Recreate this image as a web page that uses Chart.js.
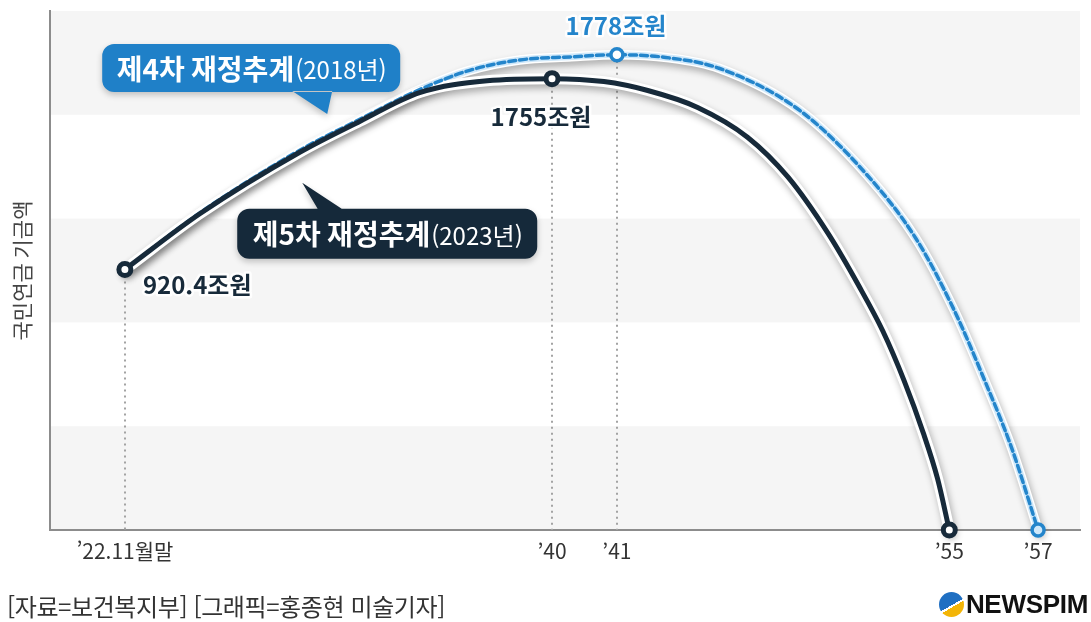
<!DOCTYPE html>
<html lang="ko">
<head>
<meta charset="utf-8">
<title>국민연금 기금액 전망</title>
<script src="https://cdn.jsdelivr.net/npm/chart.js@4/dist/chart.umd.min.js"></script>
<style>
  html, body { margin: 0; padding: 0; background: #fff; }
  #wrap { position: relative; width: 1091px; height: 622px; overflow: hidden; }
  #fund-chart { position: absolute; left: 0; top: 0; }
  .source {
    position: absolute; left: 7px; top: 588px;
    font: 24px "Noto Sans CJK KR", "Noto Sans", sans-serif; color: #333;
    letter-spacing: -0.4px; white-space: nowrap;
  }
  .logo {
    position: absolute; right: 3px; top: 589px; display: flex; align-items: center;
    font: bold 26px "Liberation Sans", "DejaVu Sans", sans-serif; color: #111; letter-spacing: -0.3px;
  }
  .logo .mark {
    width: 25px; height: 25px; border-radius: 50%; margin-right: 2px;
    background: linear-gradient(150deg, #1f6fc2 0 52%, #fff 52% 58%, #f3b507 58% 100%);
  }
</style>
</head>
<body>
<div id="wrap">
  <canvas id="fund-chart" width="1091" height="622"></canvas>
  <div class="source">[자료=보건복지부] [그래픽=홍종현 미술기자]</div>
  <div class="logo"><span class="mark"></span><span>NEWSPIM</span></div>
</div>
<script>
const FONT = '"Noto Sans CJK KR", "Noto Sans", sans-serif';
const DARK = '#172a3a';
const BLUE = '#2485cb';

// x ticks ('22.11 -> '57)
const xTickValues = [2022.9, 2040, 2041, 2055, 2057];
const xTickLabels = ['’22.11월말', '’40', '’41', '’55', '’57'];

// 제5차 재정추계 (2023) - 조원
const darkYears = [2022.9, 2025.9, 2029.9, 2032.3, 2034.7, 2037.4, 2040, 2040.8, 2042.3, 2044.4, 2046.5, 2048.2, 2049.9, 2051.2, 2052.2, 2053.1, 2053.9, 2054.5, 2055];
const darkFund  = [920.4, 1164, 1433, 1568, 1694, 1746, 1755, 1742, 1703, 1629, 1499, 1325, 1077, 861, 703, 527, 344, 183, 0];

// 제4차 재정추계 (2018) - 조원
const blueYears = [2022.9, 2025.9, 2029.9, 2032.3, 2034.7, 2036.7, 2038.7, 2040.3, 2041, 2043.2, 2045.3, 2048.7, 2051.5, 2053.6, 2055.1, 2055.8, 2056.4, 2057];
const blueFund  = [920.4, 1168, 1442, 1577, 1707, 1763, 1773, 1776, 1778, 1775, 1765, 1616, 1338, 1055, 780, 527, 292, 0];

// the graphic is schematic: axis is stretched piecewise between these [value, share of axis]
const xKnots = [[2019.9, 0], [2022.9, 0.0727], [2040, 0.4874], [2041, 0.5504], [2055, 0.8731], [2057, 0.9593], [2058, 1]];
const yKnots = [[0, 0], [920.4, 0.5019], [1755, 0.8697], [1778, 0.9157], [1820, 1]];
const knotsById = { x: xKnots, y: yKnots };

const toDecimal = (k, v) => {
    let i = 1;
    while (i < k.length - 1 && v > k[i][0]) i++;
    const [v0, d0] = k[i - 1], [v1, d1] = k[i];
    return d0 + (v - v0) / (v1 - v0) * (d1 - d0);
}
const fromDecimal = (k, d) => {
    let i = 1;
    while (i < k.length - 1 && d > k[i][1]) i++;
    const [v0, d0] = k[i - 1], [v1, d1] = k[i];
    return v0 + (d - d0) / (d1 - d0) * (v1 - v0);
}

class KnotScale extends Chart.LinearScale {
    getPixelForValue(value) {
        return this.getPixelForDecimal(toDecimal(knotsById[this.id], value));
    }
    getValueForPixel(pixel) {
        return fromDecimal(knotsById[this.id], this.getDecimalForPixel(pixel));
    }
}
KnotScale.id = 'knot';
KnotScale.defaults = Chart.LinearScale.defaults;
Chart.register(KnotScale);

const toPoints = (xs, ys) => xs.map((x, i) => ({ x, y: ys[i] }));
const peakIndex = (arr) => arr.indexOf(Math.max(...arr));

const darkPeak = peakIndex(darkFund);
const bluePeak = peakIndex(blueFund);
const keyPoints = [[0, darkPeak, darkFund.length - 1], [bluePeak, blueFund.length - 1]];

// alternating grey bands
const bands = {
    id: 'bands',
    beforeDraw(chart) {
        const { ctx, chartArea: a } = chart;
        const h = (a.bottom - a.top) / 5;
        ctx.save();
        ctx.fillStyle = '#f5f5f5';
        for (let i = 0; i < 5; i += 2) ctx.fillRect(a.left, a.top + i * h, a.right - a.left, h);
        ctx.restore();
    }
};

// dotted drop lines from the labelled points
const dropLines = {
    id: 'dropLines',
    beforeDatasetsDraw(chart) {
        const { ctx, chartArea: a } = chart;
        ctx.save();
        ctx.strokeStyle = '#a3a3a3';
        ctx.lineWidth = 2;
        ctx.setLineDash([2, 4]);
        [[0, 0], [0, darkPeak], [1, bluePeak]].forEach(([d, i]) => {
            const p = chart.getDatasetMeta(d).data[i];
            ctx.beginPath();
            ctx.moveTo(Math.round(p.x), p.y + 6);
            ctx.lineTo(Math.round(p.x), a.bottom);
            ctx.stroke();
        });
        ctx.restore();
    }
};

// white outline + soft shadow under both curves
const curveHalo = {
    id: 'curveHalo',
    beforeDatasetsDraw(chart) {
        const ctx = chart.ctx;
        for (let d = chart.data.datasets.length - 1; d >= 0; d--) {
            const ds = chart.data.datasets[d];
            const line = chart.getDatasetMeta(d).dataset;
            line.updateControlPoints(chart.chartArea, 'x');
            const path = new Path2D();
            line.path(path);
            ctx.save();
            ctx.lineJoin = 'round';
            ctx.lineCap = 'round';
            ctx.shadowColor = 'rgba(0,0,0,0.30)';
            ctx.shadowBlur = 7;
            ctx.shadowOffsetX = 2;
            ctx.shadowOffsetY = 4;
            ctx.strokeStyle = '#fff';
            ctx.lineWidth = ds.borderWidth + 6;
            ctx.stroke(path);
            ctx.shadowColor = 'transparent';
            if (ds.haloColor) {
                ctx.strokeStyle = ds.haloColor;
                ctx.lineWidth = ds.borderWidth + 3;
                ctx.stroke(path);
            }
            ctx.restore();
        }
    }
};

const valueLabels = [
    { d: 0, i: 0, dx: 18, dy: 15, align: 'left', color: DARK },
    { d: 0, i: darkPeak, dx: -11, dy: 38, align: 'center', color: DARK },
    { d: 1, i: bluePeak, dx: -1, dy: -29, align: 'center', color: BLUE },
];

const callouts = [
    { at: { x: 2031, y: 1600 }, dx: -225, dy: -70, w: 298, h: 48, tail: [-35, 5], top: false,
      color: '#1f80c8', bold: '제4차 재정추계', rest: '(2018년)' },
    { at: { x: 2030, y: 1300 }, dx: -65, dy: 26, w: 300, h: 50, tail: [16, 41], top: true,
      color: '#15293a', bold: '제5차 재정추계', rest: '(2023년)' },
];

const annotations = {
    id: 'annotations',
    afterDatasetsDraw(chart) {
        const { ctx, scales } = chart;
        ctx.save();
        ctx.textBaseline = 'middle';
        ctx.lineJoin = 'round';
        valueLabels.forEach(l => {
            const p = chart.getDatasetMeta(l.d).data[l.i];
            const v = chart.data.datasets[l.d].data[l.i].y;
            ctx.font = `bold 24px ${FONT}`;
            ctx.textAlign = l.align;
            ctx.strokeStyle = 'rgba(255,255,255,0.9)';
            ctx.lineWidth = 5;
            ctx.strokeText(`${v}조원`, p.x + l.dx, p.y + l.dy);
            ctx.fillStyle = l.color;
            ctx.fillText(`${v}조원`, p.x + l.dx, p.y + l.dy);
        });

        callouts.forEach(c => {
            const tx = scales.x.getPixelForValue(c.at.x);
            const ty = scales.y.getPixelForValue(c.at.y);
            const x = tx + c.dx, y = ty + c.dy;
            const edge = c.top ? y + 1 : y + c.h - 1;
            ctx.save();
            ctx.fillStyle = c.color;
            ctx.shadowColor = 'rgba(0,0,0,0.22)';
            ctx.shadowBlur = 6;
            ctx.shadowOffsetY = 3;
            ctx.beginPath();
            ctx.roundRect(x, y, c.w, c.h, 12);
            ctx.moveTo(tx + c.tail[0], edge);
            ctx.lineTo(tx, ty);
            ctx.lineTo(tx + c.tail[1], edge);
            ctx.closePath();
            ctx.fill();
            ctx.restore();

            ctx.fillStyle = '#fff';
            ctx.textAlign = 'left';
            ctx.font = `bold 28px ${FONT}`;
            const w1 = ctx.measureText(c.bold).width;
            ctx.font = `24px ${FONT}`;
            const w2 = ctx.measureText(c.rest).width;
            const sx = x + (c.w - w1 - w2) / 2;
            ctx.font = `bold 28px ${FONT}`;
            ctx.fillText(c.bold, sx, y + c.h / 2 + 1);
            ctx.font = `24px ${FONT}`;
            ctx.fillText(c.rest, sx + w1 + 1, y + c.h / 2 + 2);
        });
        ctx.restore();
    }
};

const data = {
    datasets: [{
        label: '제5차 재정추계(2023년)',
        data: toPoints(darkYears, darkFund),
        borderColor: DARK,
        borderWidth: 5,
        pointBackgroundColor: '#fff',
        pointBorderColor: DARK,
        clip: false,
    }, {
        label: '제4차 재정추계(2018년)',
        data: toPoints(blueYears, blueFund),
        borderColor: BLUE,
        borderWidth: 3.5,
        borderDash: [7, 4],
        haloColor: '#cfe8fa',
        pointBackgroundColor: (c) => c.dataIndex === blueFund.length - 1 ? '#cfe8fa' : '#fff',
        pointBorderColor: BLUE,
        clip: false,
    }]
};

const config = {
    type: 'line',
    data,
    options: {
        responsive: false,
        animation: false,
        events: [],
        cubicInterpolationMode: 'monotone',
        layout: { padding: { top: 8, right: 9, left: 0, bottom: 0 } },
        elements: {
            point: {
                radius: (c) => keyPoints[c.datasetIndex].includes(c.dataIndex) ? 6 : 0,
                borderWidth: 2,
            },
            line: { borderCapStyle: 'round', borderJoinStyle: 'round' },
        },
        scales: {
            x: {
                type: 'knot',
                min: 2019.9,
                max: 2058,
                grid: { display: false, drawTicks: false },
                border: { display: true, color: '#8c8c8c', width: 2 },
                afterBuildTicks: (s) => { s.ticks = xTickValues.map(value => ({ value })); },
                afterFit: (s) => { s.height = 92; },
                ticks: {
                    autoSkip: false,
                    maxRotation: 0,
                    padding: 8,
                    color: '#333',
                    font: { family: FONT, size: 21 },
                    callback: (v, i) => xTickLabels[i],
                },
            },
            y: {
                type: 'knot',
                min: 0,
                max: 1820,
                grid: { display: false, drawTicks: false },
                border: { display: true, color: '#8c8c8c', width: 2 },
                afterBuildTicks: (s) => { s.ticks = []; },
                afterFit: (s) => { s.width = 50; },
                ticks: { display: false },
                title: {
                    display: true,
                    text: '국민연금 기금액',
                    color: '#444',
                    font: { family: FONT, size: 21 },
                    padding: { top: 9, bottom: 0 },
                },
            },
        },
        plugins: {
            legend: { display: false },
            tooltip: { enabled: false },
        },
    },
    plugins: [bands, dropLines, curveHalo, annotations],
};

new Chart(document.getElementById('fund-chart'), config);
</script>
</body>
</html>
